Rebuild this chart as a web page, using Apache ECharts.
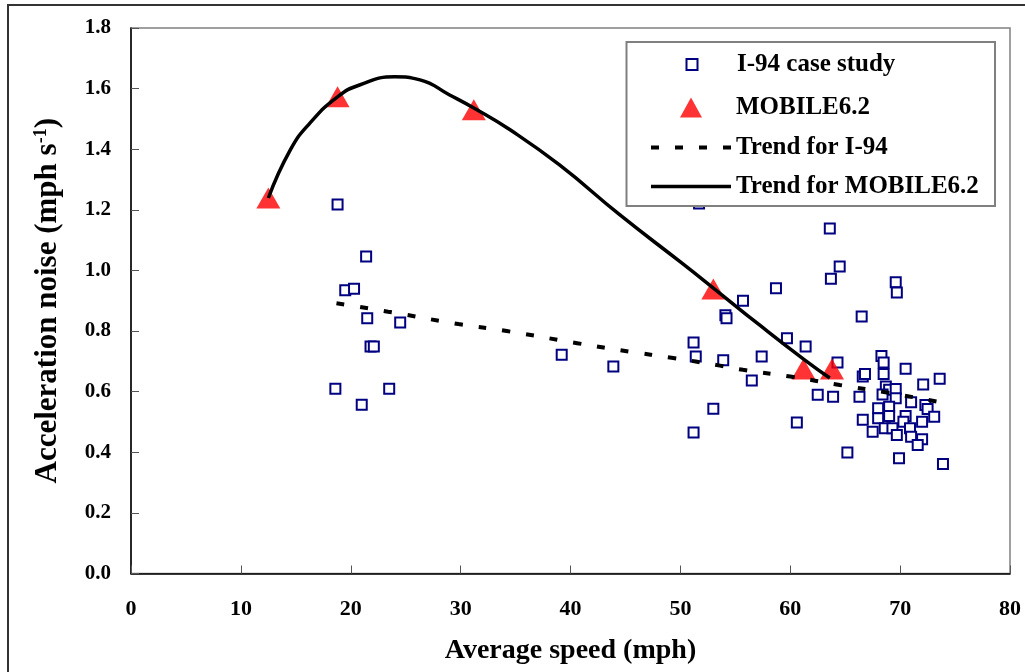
<!DOCTYPE html>
<html><head><meta charset="utf-8">
<script src="https://cdn.jsdelivr.net/npm/echarts/dist/echarts.min.js"></script>
<style>html,body{margin:0;padding:0;background:#fff}#c{width:1025px;height:672px}</style>
</head><body><div id="c"></div>
<script>
// ---- data ----
const i94Speed = [18.8,21.4,19.5,20.3,21.5,24.5,21.8,22.1,18.6,23.5,21.0,39.2,43.9,
  51.7,51.2,51.4,55.7,58.7,54.1,54.2,53.9,57.4,59.7,61.4,56.5,53.0,51.2,64.3,62.5,63.9,60.6,65.2,66.3,66.6,66.8,66.5,63.6,64.5,63.7,69.6,69.7,66.6,
  68.3,68.5,68.5,70.5,73.6,72.1,68.7,69.0,69.6,68.4,69.6,71.0,72.3,72.5,68.0,69.0,68.0,69.0,70.5,70.3,72.0,73.1,67.5,68.6,69.3,69.7,70.9,71.0,72.0,71.6,69.9,73.9];
const i94Noise = [1.218,1.046,0.935,0.940,0.842,0.828,0.749,0.749,0.610,0.610,0.557,0.722,0.683,
  1.221,0.762,0.716,0.900,0.941,0.852,0.842,0.704,0.716,0.776,0.749,0.637,0.544,0.465,0.696,0.590,0.583,0.498,0.399,0.583,0.650,0.658,0.848,1.138,1.013,0.973,0.961,0.927,0.507,
  0.718,0.696,0.658,0.676,0.643,0.624,0.617,0.606,0.609,0.591,0.578,0.565,0.556,0.543,0.545,0.550,0.512,0.520,0.520,0.501,0.501,0.517,0.468,0.479,0.479,0.457,0.479,0.451,0.443,0.424,0.380,0.361];
const mobileSpeed = [12.5,18.8,31.2,53.0,61.2,63.8];
const mobileNoise = [1.239,1.573,1.530,0.939,0.675,0.675];
const trendI94Speed = [18.7,23.4,29.8,34.2,40.6,45.4,49.2,53.6,55.7,60.0,64.5,68.8,73.4];
const trendI94Noise = [0.892,0.864,0.823,0.800,0.760,0.732,0.712,0.686,0.672,0.650,0.622,0.597,0.567];
const trendMobSpeed = [12.5,14.5,16.3,18.8,20.8,24.0,26.3,29.0,31.2,34.5,39.0,44.5,50.0,53.0,57.2,61.3,63.6];
const trendMobNoise = [1.239,1.398,1.487,1.573,1.612,1.639,1.629,1.579,1.536,1.464,1.348,1.183,1.028,0.942,0.820,0.705,0.645];
const legendNames = ['I-94 case study','MOBILE6.2','Trend for I-94','Trend for MOBILE6.2'];
const xTitle = 'Average speed (mph)';
const yTitle = 'Acceleration noise (mph s{sup|-1})';

const zip = (a,b) => a.map((v,i)=>[v,b[i]]);
const FONT = 'Liberation Serif';
const chart = echarts.init(document.getElementById('c'), null, {renderer:'canvas'});
const lg = (i, icon, w, h, left, top) => ({
  data:[{name:legendNames[i], icon:icon}], left:left, top:top, itemWidth:w, itemHeight:h,
  padding:0, selectedMode:false, z:20,
  textStyle:{fontFamily:FONT, fontWeight:'bold', fontSize:25, color:'#000'}
});
chart.setOption({
  animation:false,
  backgroundColor:'#fff',
  grid:{left:131, right:15, top:28, bottom:98.5, show:true, borderColor:'#808080', borderWidth:1.5},
  xAxis:{type:'value', min:0, max:80, interval:10,
    name:xTitle, nameLocation:'middle', nameGap:63,
    nameTextStyle:{fontFamily:FONT, fontWeight:'bold', fontSize:28, color:'#000'},
    axisLine:{lineStyle:{color:'#000', width:1.5}},
    axisTick:{inside:true, length:8, lineStyle:{color:'#555'}},
    axisLabel:{fontFamily:FONT, fontWeight:'bold', fontSize:22, color:'#000', margin:25},
    splitLine:{show:false}},
  yAxis:{type:'value', min:0, max:1.8, interval:0.2,
    name:yTitle, nameLocation:'middle', nameGap:68,
    nameTextStyle:{fontFamily:FONT, fontWeight:'bold', fontSize:31, color:'#000',
      rich:{sup:{fontFamily:FONT, fontWeight:'bold', fontSize:18, color:'#000', verticalAlign:'top'}}},
    axisLine:{lineStyle:{color:'#000', width:1.5}},
    axisTick:{inside:true, length:8, lineStyle:{color:'#555'}},
    axisLabel:{fontFamily:FONT, fontWeight:'bold', fontSize:21, color:'#000', margin:20,
      formatter:v=>v.toFixed(1)},
    splitLine:{show:false}},
  legend:[
    lg(0,'path://M0,0H10V10H0Z',80,11,685.5,52),
    lg(1,'path://M11,0L22,20L0,20Z',80,20,680,95),
    lg(2,'path://M0,0H8V4H0ZM24,0H32V4H24ZM48,0H56V4H48ZM72,0H80V4H72Z',80,4,651,135),
    lg(3,'path://M0,0H80V3.5H0Z',80,3.5,651,174)
  ],
  graphic:[
    {type:'rect', shape:{x:8,y:5,width:1100,height:800}, style:{fill:null, stroke:'#333', lineWidth:2}, z:0, silent:true},
    {type:'rect', shape:{x:626.5,y:42,width:368.5,height:164}, style:{fill:'#fff', stroke:'#808080', lineWidth:2}, z:10, silent:true}
  ],
  series:[
    {name:legendNames[0], type:'scatter', data:zip(i94Speed,i94Noise), symbol:'rect', symbolSize:10,
      itemStyle:{color:'#fff', borderColor:'#000080', borderWidth:2, opacity:1}, z:2},
    {name:legendNames[1], type:'scatter', data:zip(mobileSpeed,mobileNoise), symbol:'triangle', symbolSize:[24,21],
      itemStyle:{color:'#ff0000'}, z:3},
    {name:legendNames[2], type:'line', data:zip(trendI94Speed,trendI94Noise), smooth:true, symbol:'none',
      lineStyle:{color:'#000', width:4, type:[8,16]}, itemStyle:{color:'#000'}, z:4},
    {name:legendNames[3], type:'line', data:zip(trendMobSpeed,trendMobNoise), smooth:true, symbol:'none',
      lineStyle:{color:'#000', width:3.5}, itemStyle:{color:'#000'}, z:5}
  ]
});
</script></body></html>
